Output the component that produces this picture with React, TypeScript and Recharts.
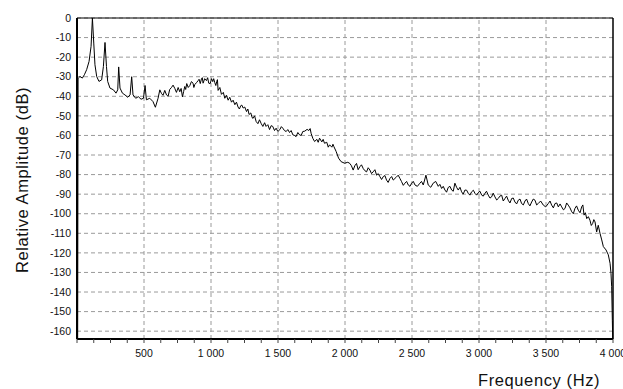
import React from "react";
import {
  LineChart,
  Line,
  XAxis,
  YAxis,
  CartesianGrid,
  ReferenceLine,
} from "recharts";

// spectrum, ten points per row
const FREQ_HZ = [
  5, 8, 10, 22, 40, 55, 72, 90, 105, 115,
  125, 134, 147, 164, 184, 197, 209, 220, 229, 246,
  272, 291, 304, 311, 321, 339, 358, 379, 396, 408,
  418, 438, 458, 478, 496, 508, 518, 543, 567, 585,
  605, 618, 630, 642, 655, 668, 680, 692, 705, 717,
  730, 742, 755, 767, 777, 787, 796, 804, 811, 819,
  830, 842, 854, 866, 872, 879, 892, 904, 911, 920,
  929, 935, 941, 953, 966, 975, 983, 994, 1004, 1013,
  1020, 1028, 1036, 1043, 1048, 1053, 1066, 1078, 1092, 1103,
  1115, 1128, 1140, 1153, 1165, 1178, 1190, 1202, 1212, 1222,
  1230, 1240, 1252, 1265, 1275, 1284, 1297, 1305, 1312, 1325,
  1337, 1350, 1362, 1375, 1387, 1400, 1411, 1424, 1437, 1449,
  1461, 1474, 1486, 1499, 1514, 1525, 1536, 1548, 1561, 1573,
  1586, 1598, 1611, 1623, 1635, 1648, 1661, 1673, 1685, 1700,
  1717, 1730, 1740, 1747, 1760, 1773, 1790, 1800, 1810, 1827,
  1837, 1847, 1864, 1875, 1885, 1902, 1910, 1917, 1934, 1952,
  1971, 1997, 2021, 2036, 2048, 2061, 2073, 2086, 2098, 2111,
  2123, 2136, 2148, 2161, 2173, 2186, 2198, 2210, 2223, 2236,
  2248, 2260, 2273, 2286, 2298, 2310, 2322, 2335, 2348, 2360,
  2380, 2397, 2410, 2422, 2435, 2447, 2460, 2472, 2485, 2497,
  2510, 2522, 2540, 2559, 2571, 2584, 2604, 2621, 2640, 2658,
  2677, 2696, 2708, 2721, 2733, 2746, 2758, 2770, 2783, 2796,
  2808, 2820, 2833, 2845, 2858, 2870, 2882, 2895, 2908, 2920,
  2932, 2945, 2958, 2970, 2982, 2994, 3007, 3020, 3032, 3044,
  3056, 3069, 3082, 3094, 3106, 3119, 3132, 3144, 3156, 3169,
  3181, 3194, 3206, 3218, 3231, 3244, 3256, 3268, 3281, 3293,
  3306, 3318, 3331, 3343, 3355, 3368, 3380, 3393, 3405, 3418,
  3430, 3442, 3460, 3480, 3498, 3517, 3530, 3542, 3555, 3567,
  3580, 3592, 3605, 3617, 3630, 3642, 3654, 3666, 3679, 3692,
  3704, 3716, 3728, 3741, 3754, 3766, 3775, 3784, 3794, 3804,
  3816, 3828, 3838, 3848, 3857, 3866, 3878, 3890, 3903, 3916,
  3928, 3948, 3965, 3978, 3985, 3990, 3995, 3998,
];

const AMPLITUDE_DB = [
  -164, -31, -30.7, -29.9, -30.7, -29, -26.4, -22.2, -14.5, 0,
  -12.8, -23.9, -29.9, -32.4, -31.6, -24.8, -12.5, -24.8, -32.4, -35.8,
  -36.7, -38.4, -36.7, -25, -35.8, -38.4, -39.3, -40.5, -39.3, -30,
  -39.3, -41, -40.2, -41.5, -41, -34.5, -41.8, -41, -42.7, -45.6,
  -41, -36.7, -38.5, -39.5, -37, -39.3, -40, -36.5, -35.5, -34.3,
  -36, -38, -35.5, -37.7, -36, -40.3, -37.5, -35, -36.5, -33.5,
  -35.5, -34.5, -32.5, -33.3, -35.5, -34, -33, -32, -31.3, -33.5,
  -31, -30.5, -33.3, -31, -32, -30.5, -33.3, -33.5, -31, -32.5,
  -31, -33, -34.5, -32.4, -31.5, -37, -35.5, -39, -38, -41,
  -39.5, -42, -40.5, -43, -42, -44.3, -43, -45.5, -46.5, -44.8,
  -44.5, -46, -45.5, -47.8, -46.5, -49.3, -48.5, -50.5, -51.3, -50,
  -52.9, -54, -52, -54, -55.4, -53.5, -55.4, -54.5, -57, -55,
  -55.4, -57.5, -56.3, -58, -57, -55.5, -56.3, -57.5, -58, -57,
  -58.5, -57.5, -59.7, -60, -60.6, -58.5, -59.7, -60, -58, -57.8,
  -56.9, -57.5, -56.5, -58.9, -61.5, -63.1, -62, -63.5, -61.4, -63.3,
  -62, -64, -63.5, -66, -64.8, -66, -64.5, -65.7, -68.2, -71.6,
  -73.4, -74.2, -73.7, -74.3, -75.5, -77.7, -75.5, -74.3, -77.5, -76,
  -75, -76.9, -78, -78.6, -76.5, -77.7, -79.5, -78.6, -77.5, -80.3,
  -79.5, -81, -82.5, -81, -80.5, -82.8, -84, -82, -81, -82.8,
  -81.5, -80.3, -82, -83.6, -85.5, -84.4, -83.5, -85.3, -86, -84.4,
  -83.5, -85.3, -86, -84.4, -83.5, -85.3, -80.3, -85.3, -86.5, -84.4,
  -83.5, -86, -85, -87.1, -86, -87.9, -89, -86.6, -86, -87.9,
  -88.5, -84.4, -86.5, -87.9, -86.5, -88.8, -90, -87.9, -88, -89.6,
  -90.5, -88.8, -88, -89.6, -90.5, -89.3, -88.5, -90.5, -91, -89.6,
  -88.5, -90.5, -92, -91.4, -89.5, -91.4, -93, -92.2, -91, -90.5,
  -93.5, -92.2, -91, -93.1, -94.5, -92.2, -92, -94, -95, -93.1,
  -92.5, -94.8, -95.5, -93.5, -92.5, -94.8, -96, -94, -92.5, -93.1,
  -95.5, -94.8, -93.5, -95.6, -96.5, -94.8, -93.5, -95.6, -97, -94.8,
  -94.5, -96.5, -95, -96.5, -98, -97.3, -94.5, -95.6, -97, -99,
  -100, -97.3, -96, -98.2, -99.5, -96.5, -95.5, -100.7, -99.5, -102.5,
  -101.5, -103.3, -106, -105, -103, -104.2, -109.3, -105.9, -110, -113.4,
  -116.8, -118.5, -121, -125.3, -130.4, -137.3, -154.5, -164,
];

const Y_TICKS = [
  0, -10, -20, -30, -40, -50, -60, -70, -80, -90, -100, -110, -120, -130, -140,
  -150, -160,
];
const X_MAJOR = [500, 1000, 1500, 2000, 2500, 3000, 3500, 4000];
const X_MINOR_STEP = 125;

const data = FREQ_HZ.map((f, i) => ({ f, db: AMPLITUDE_DB[i] }));
const xTicks = Array.from({ length: 4000 / X_MINOR_STEP + 1 }, (_, i) => i * X_MINOR_STEP);

const FONT = '"Liberation Sans", Arial, sans-serif';
const GRID = "#9a9a9a";

function fmtHz(v: number) {
  if (!X_MAJOR.includes(v)) return "";
  if (v < 1000) return String(v);
  return `${Math.floor(v / 1000)} ${String(v % 1000).padStart(3, "0")}`;
}

export default function App() {
  return (
    <div
      style={{
        position: "absolute",
        left: 0,
        top: 0,
        width: 623,
        height: 389,
        background: "#fff",
        fontFamily: FONT,
        overflow: "hidden",
      }}
    >
      <LineChart
        width={623}
        height={389}
        data={data}
        margin={{ top: 18, right: 10, bottom: 30, left: 37 }}
      >
        <CartesianGrid vertical={false} stroke={GRID} strokeDasharray="4 3" />
        {X_MAJOR.slice(0, -1).map((x) => (
          <ReferenceLine key={x} x={x} stroke={GRID} strokeDasharray="4 3" />
        ))}
        <ReferenceLine y={0} stroke="#000" strokeWidth={1} />
        <ReferenceLine x={4000} stroke="#000" strokeWidth={1.5} />
        <XAxis
          type="number"
          dataKey="f"
          domain={[0, 4000]}
          ticks={xTicks}
          interval={0}
          tickFormatter={fmtHz}
          height={20}
          tickSize={4}
          tickMargin={7}
          axisLine={{ stroke: "#000", strokeWidth: 2 }}
          tickLine={{ stroke: "#444" }}
          tick={{ fontSize: 10.5, fill: "#111", fontFamily: FONT }}
        />
        <YAxis
          type="number"
          domain={[-164, 0]}
          ticks={Y_TICKS}
          interval={0}
          allowDataOverflow
          width={40}
          tickSize={0}
          tickMargin={6}
          tickLine={false}
          axisLine={{ stroke: "#000", strokeWidth: 2 }}
          tick={{ fontSize: 10.5, fill: "#111", fontFamily: FONT }}
        />
        <Line
          type="linear"
          dataKey="db"
          stroke="#000"
          strokeWidth={1}
          dot={false}
          isAnimationActive={false}
        />
      </LineChart>
      <div
        style={{
          position: "absolute",
          left: 22,
          top: 180,
          transform: "translate(-50%, -50%) rotate(-90deg)",
          whiteSpace: "nowrap",
          fontSize: 16.5,
          letterSpacing: 0.6,
          color: "#111",
        }}
      >
        Relative Amplitude (dB)
      </div>
      <div
        style={{
          position: "absolute",
          left: 478,
          top: 371,
          whiteSpace: "nowrap",
          fontSize: 16.5,
          letterSpacing: 0.6,
          color: "#111",
        }}
      >
        Frequency (Hz)
      </div>
    </div>
  );
}
